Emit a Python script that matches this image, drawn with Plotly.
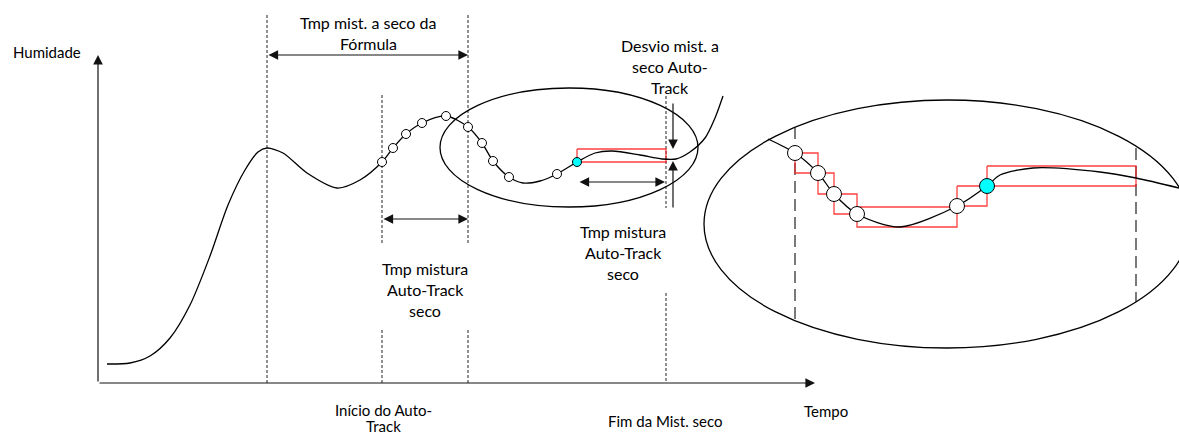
import plotly.graph_objects as go

# diagram drawn in pixel space of a 1179 x 437 canvas (y grows downwards)
W, H = 1179, 437

# main humidity curve
curve_x = [107, 130, 150, 170, 190, 210, 228, 245, 258, 267, 283, 307, 337, 360, 382, 393, 406, 422, 446,
           468, 482, 493, 509, 523, 540, 557, 577, 595, 612, 640, 662, 676, 690, 705, 715, 723]
curve_y = [364, 363, 356, 338, 305, 256, 205, 170, 152, 148, 153, 173, 188, 180, 162, 148, 134, 123, 116,
           127, 143, 161, 177, 183, 181, 174, 162, 153, 151, 155, 159, 159, 152, 138, 118, 96]

# Auto-Track samples on the main curve
sample_x = [382, 393, 406, 422, 446, 468, 482, 493, 509, 557]
sample_y = [162, 148, 134, 123, 116, 127, 143, 161, 177, 174]
current_x = [577]
current_y = [162]

# magnified view of the end of the mix
zoom_curve_x = [768, 795, 818, 834, 857, 900, 957, 987, 1000, 1033, 1100, 1136, 1179]
zoom_curve_y = [139, 153, 173, 194, 214, 227, 206, 186, 175, 168, 172, 178, 188]
zoom_sample_x = [795, 818, 834, 857, 957]
zoom_sample_y = [153, 173, 194, 214, 206]
zoom_current_x = [987]
zoom_current_y = [186]

# min/max boxes between samples (magnified view) and the last box in the main view
box_x0 = [795, 818, 834, 857, 957, 987, 577]
box_x1 = [818, 834, 857, 957, 987, 1136, 666]
box_top = [153, 173, 194, 207, 186, 166, 149]
box_bottom = [173, 194, 214, 227, 206, 186, 162]

fig = go.Figure()


def line(x, y, color="black", width=1.3, dash="solid", shape="linear"):
    fig.add_trace(go.Scatter(x=x, y=y, mode="lines", hoverinfo="skip", showlegend=False,
                             line=dict(color=color, width=width, dash=dash, shape=shape, smoothing=0.8)))


def dots(x, y, size, fill):
    fig.add_trace(go.Scatter(x=x, y=y, mode="markers", hoverinfo="skip", showlegend=False,
                             marker=dict(size=size, color=fill, line=dict(color="black", width=1))))


def arrow(x0, y0, x1, y1, both=False):
    fig.add_annotation(x=x1, y=y1, ax=x0, ay=y0, xref="x", yref="y", axref="x", ayref="y",
                       showarrow=True, arrowhead=2, arrowsize=1.6, arrowwidth=1.2,
                       arrowcolor="#111", standoff=0, startstandoff=0,
                       arrowside="end+start" if both else "end", startarrowhead=2, startarrowsize=1.6,
                       text="")


def label(x, ys, lines, size=16):
    for yy, t in zip(ys, lines):
        fig.add_annotation(x=x, y=yy, xref="x", yref="y", text=t, showarrow=False,
                           font=dict(family="Lato", size=size, color="#000"), xanchor="center", yanchor="middle")


# ellipses
fig.add_shape(type="circle", xref="x", yref="y", x0=440, x1=698, y0=88, y1=207,
              line=dict(color="black", width=1.3))
fig.add_shape(type="circle", xref="x", yref="y", x0=704, x1=1190, y0=100, y1=348,
              line=dict(color="black", width=1.3))

# fine dashed markers on the time axis
N = None
line([267, 267, N, 382, 382, N, 382, 382, N, 468, 468, N, 468, 468, N, 666, 666, N, 666, 666],
     [15, 383, N, 95, 245, N, 330, 383, N, 15, 245, N, 330, 383, N, 96, 208, N, 293, 383],
     color="#222", width=1, dash="3px,2px")
# long dashed markers in the magnified view
line([795, 795, N, 1136, 1136], [127, 322, N, 148, 302], color="#333", width=1.3, dash="12px,6px")

# red boxes
bx, by = [], []
for a, b, t, u in zip(box_x0, box_x1, box_top, box_bottom):
    bx += [a, b, b, a, a, N]
    by += [t, t, u, u, t, N]
line(bx, by, color="rgba(255,30,30,0.85)", width=1.3)

# curves
line(curve_x, curve_y, shape="spline")
line(zoom_curve_x, zoom_curve_y, shape="spline")

dots(sample_x, sample_y, 9, "white")
dots(current_x, current_y, 9, "#00ffff")
dots(zoom_sample_x, zoom_sample_y, 15, "white")
dots(zoom_current_x, zoom_current_y, 15, "#00ffff")

# axes
arrow(98, 383, 98, 55)
arrow(98, 383, 815, 383)

# dimension arrows
arrow(267, 55, 468, 55, both=True)
arrow(382, 219, 468, 219, both=True)
arrow(578, 182, 665, 182, both=True)
arrow(673, 102, 673, 149)
arrow(673, 209, 673, 161)

# texts
label(47, [52], ["Humidade"], size=15)
label(368, [22, 43], ["Tmp mist. a seco da", "Fórmula"])
label(670, [45, 66, 87], ["Desvio mist. a", "seco Auto-", "Track"])
label(425, [268, 289, 310], ["Tmp mistura", "Auto-Track", "seco"])
label(623, [231, 252, 273], ["Tmp mistura", "Auto-Track", "seco"])
label(383, [410, 426], ["Início do Auto-", "Track"], size=15)
label(665, [421], ["Fim da Mist. seco"], size=15)
label(826, [411], ["Tempo"], size=15)

fig.update_layout(width=W, height=H, margin=dict(l=0, r=0, t=0, b=0),
                  paper_bgcolor="white", plot_bgcolor="white",
                  xaxis=dict(range=[0, W], visible=False, fixedrange=True),
                  yaxis=dict(range=[H, 0], visible=False, fixedrange=True))

fig.write_html("out.html", config={"displayModeBar": False},
               post_script="document.body.style.margin='0';")
